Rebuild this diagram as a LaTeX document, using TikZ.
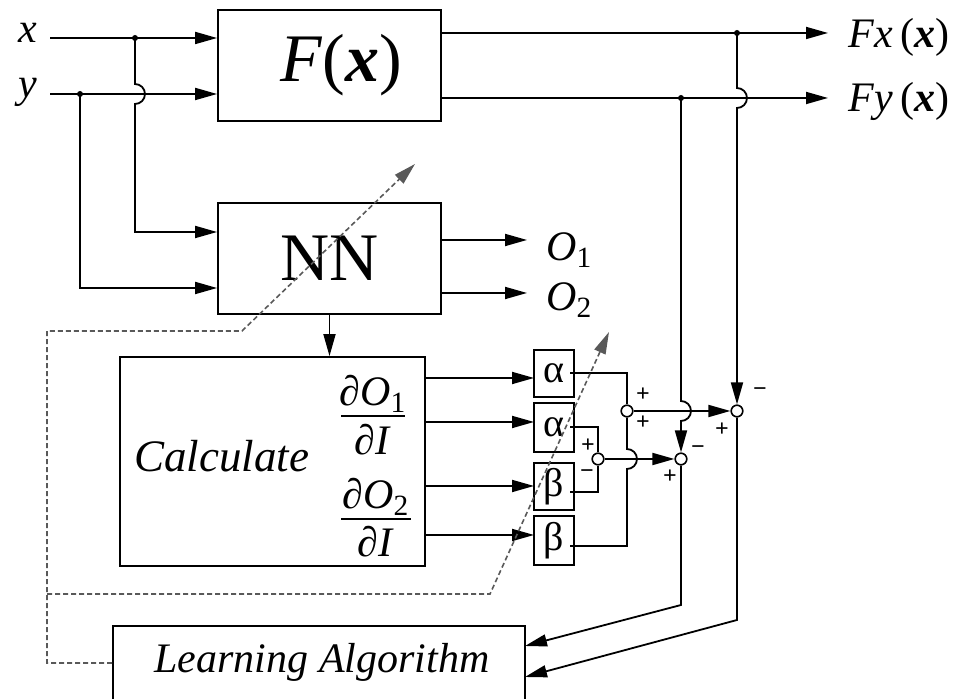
\documentclass[tikz,border=0pt]{standalone}
\usepackage{fontspec}
\setmainfont{Liberation Serif}[ItalicFont={Liberation Serif Italic},BoldFont={Liberation Serif Bold},BoldItalicFont={Liberation Serif Bold Italic}]
\usetikzlibrary{arrows.meta}
\begin{document}
\begin{tikzpicture}[x=0.5pt,y=0.5pt,
  ln/.style={line width=0.9pt},
  arr/.style={line width=0.9pt,-{Triangle[length=11pt,width=6pt]}},
  blk/.style={draw,line width=0.9pt,inner sep=0pt},
  sumc/.style={draw,circle,line width=0.8pt,fill=white,minimum size=5.8pt,inner sep=0pt},
  dsh/.style={line width=0.8pt,gray!70!black,dash pattern=on 2.5pt off 1.5pt},
  darr/.style={dsh,-{Triangle[length=11pt,width=6pt]}},
  sgn/.style={font=\fontsize{12}{14}\selectfont\bfseries,inner sep=0pt},
  big/.style={font=\fontsize{34}{40}\selectfont},
  lab/.style={font=\fontsize{21}{25}\selectfont,inner sep=0pt},
  grk/.style={blk,minimum width=20pt,font=\fontsize{20}{24}\selectfont},
]
\useasboundingbox (0,0) rectangle (955,-699);
\clip (0,0) rectangle (955,-699);

% ---------- blocks ----------
\node[blk,minimum width=111.5pt,minimum height=55.5pt] (F) at (329.5,-65.5) {};
\node[big,anchor=base,inner sep=0pt] (Ft) at (341,-82) {\textit{F}(\textbf{\textit{x}})};
\node[blk,big,minimum width=111.5pt,minimum height=55.5pt] (NN) at (329.5,-258.5) {NN};
\node[blk,minimum width=152.5pt,minimum height=104.5pt] (Calc) at (272.5,-461.5) {};
\node[blk,minimum width=206pt,minimum height=57pt] (Learn) at (319,-683) {};

\node[grk,minimum height=23.5pt] (A1) at (554,-373.5) {α};
\node[grk,minimum height=24.5pt] (A2) at (554,-427.5) {α};
\node[grk,minimum height=23.5pt] (B1) at (554,-486.5) {β};
\node[grk,minimum height=24.5pt] (B2) at (554,-540.5) {β};

\node[sumc] (S1) at (627,-411) {};
\node[sumc] (S2) at (598,-459) {};
\node[sumc] (S3) at (681,-459) {};
\node[sumc] (S4) at (737,-411) {};

% ---------- texts ----------
\node[lab,anchor=base] (lx) at (28,-43) {\textit{x}};
\node[lab,anchor=base] (ly) at (28,-98) {\textit{y}};
\node[lab,anchor=base west] (Fxl) at (848,-48) {\textit{F}\textit{x}\,(\textbf{\textit{x}})};
\node[lab,anchor=base west] (Fyl) at (848,-112) {\textit{F}\textit{y}\,(\textbf{\textit{x}})};
\node[lab,anchor=base west] (O1) at (546,-261) {\textit{O}\textsubscript{1}};
\node[lab,anchor=base west] (O2) at (546,-311) {\textit{O}\textsubscript{2}};
\node[anchor=base west,inner sep=0pt,font=\fontsize{22.5}{26}\selectfont\itshape] (Ct) at (134,-472) {Calculate};
\node[lab,anchor=base] (D1n) at (373,-406) {\textit{∂O}\textsubscript{1}};
\node[lab,anchor=base] (D1d) at (373,-455) {\textit{∂I}};
\node[lab,anchor=base] (D2n) at (376,-509) {\textit{∂O}\textsubscript{2}};
\node[lab,anchor=base] (D2d) at (376,-557) {\textit{∂I}};
\draw[line width=0.8pt] (341,-416) -- (405,-416);
\draw[line width=0.8pt] (341,-519) -- (411,-519);
\node[anchor=base,inner sep=0pt,font=\fontsize{21}{25}\selectfont\itshape] (Lt) at (322,-673) {Learning Algorithm};

% signs
\node[sgn] (p1) at (643,-395) {+};
\node[sgn] (p2) at (643,-423) {+};
\node[sgn] (m4) at (760,-392) {−};
\node[sgn] (p4) at (722,-430) {+};
\node[sgn] (p3) at (588,-446) {+};
\node[sgn] (m3) at (587,-474) {−};
\node[sgn] (m5) at (698,-450) {−};
\node[sgn] (p5) at (670,-477) {+};

% ---------- coordinates ----------
\coordinate (xs) at (50,-38);
\coordinate (ys) at (50,-94);
\coordinate (jx) at (135,-38);
\coordinate (jy) at (80,-94);
\coordinate (nx) at (135,-232);
\coordinate (ny) at (80,-288);
\coordinate (jfx) at (737,-33);
\coordinate (jfy) at (681,-98);
\coordinate (fxe) at (828,-33);
\coordinate (fye) at (828,-98);
\coordinate (o1e) at (527,-240);
\coordinate (o2e) at (527,-293);
\coordinate (c1) at (534,-378);
\coordinate (c2) at (534,-422);
\coordinate (c3) at (534,-486);
\coordinate (c4) at (534,-535);
\coordinate (a1o) at (570,-373);
\coordinate (a2o) at (570,-427);
\coordinate (b1o) at (570,-492);
\coordinate (b2o) at (570,-546);
\coordinate (L1) at (525,-646);
\coordinate (L2) at (525,-677);
\coordinate (dl) at (113,-663);
\coordinate (dt1) at (415,-164);
\coordinate (dt2) at (609,-332);

% ---------- inputs ----------
\draw[arr] (xs) -- (xs -| F.west);
\draw[arr] (ys) -- (ys -| F.west);
\draw[arr] (jx) -- (135,-84) arc[start angle=90,end angle=-90,radius=10] -- (nx) -- (nx -| NN.west);
\draw[arr] (jy) -- (ny) -- (ny -| NN.west);
\fill (jx) circle[radius=3];
\fill (jy) circle[radius=3];

% ---------- F outputs ----------
\draw[arr] (F.east |- fxe) -- (fxe);
\draw[arr] (F.east |- fye) -- (fye);
\fill (jfx) circle[radius=3];
\fill (jfy) circle[radius=3];
\draw[arr] (jfx) -- (737,-88) arc[start angle=90,end angle=-90,radius=10] -- (S4.north);
\draw[arr] (jfy) -- (681,-401) arc[start angle=90,end angle=-90,radius=10] -- (S3.north);

% ---------- NN outputs ----------
\draw[arr] (NN.east |- o1e) -- (o1e);
\draw[arr] (NN.east |- o2e) -- (o2e);
\draw[arr] (NN.south) -- (NN.south |- Calc.north);

% ---------- Calc outputs ----------
\draw[arr] (Calc.east |- c1) -- (c1);
\draw[arr] (Calc.east |- c2) -- (c2);
\draw[arr] (Calc.east |- c3) -- (c3);
\draw[arr] (Calc.east |- c4) -- (c4);

% ---------- gains to summers ----------
\draw[ln] (a1o) -| (S1.north);
\draw[ln] (a2o) -| (S2.north);
\draw[ln] (b1o) -| (S2.south);
\draw[ln] (b2o) -- (627,-546) -- (627,-469) arc[start angle=-90,end angle=90,radius=10] -- (S1.south);
\draw[arr] (S2.east) -- (S3.west);
\draw[arr] (S1.east) -- (S4.west);

% ---------- to learning ----------
\draw[arr] (S3.south) -- (681,-605) -- (L1);
\draw[arr] (S4.south) -- (737,-620) -- (L2);

% ---------- dashed ----------
\draw[darr] (Learn.west |- dl) -- (47,-663) -- (47,-331) -- (242,-331) -- (dt1);
\draw[darr] (47,-594) -- (490,-594) -- (dt2);
\end{tikzpicture}
\end{document}
